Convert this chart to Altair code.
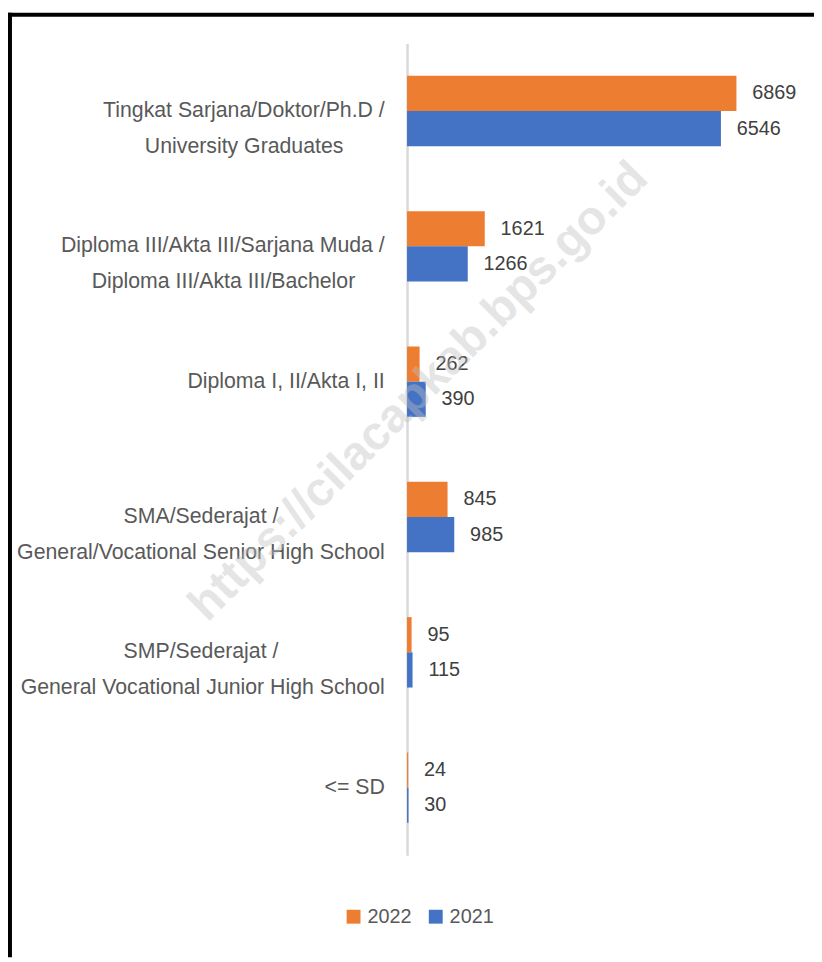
import altair as alt
import pandas as pd

# ---- data ----
categories = [
    "Tingkat Sarjana/Doktor/Ph.D /|University Graduates",
    "Diploma III/Akta III/Sarjana Muda /|Diploma III/Akta III/Bachelor",
    "Diploma I, II/Akta I, II",
    "SMA/Sederajat /|General/Vocational Senior High School",
    "SMP/Sederajat /|General Vocational Junior High School",
    "<= SD",
]
years = ["2022", "2021"]
values_2022 = [6869, 1621, 262, 845, 95, 24]
values_2021 = [6546, 1266, 390, 985, 115, 30]
colors = ["#ED7D31", "#4472C4"]
watermark = "https://cilacapkab.bps.go.id"

rows = []
for c, a, b in zip(categories, values_2022, values_2021):
    rows.append({"category": c, "year": "2022", "value": a})
    rows.append({"category": c, "year": "2021", "value": b})
df = pd.DataFrame(rows)

FONT = "Liberation Sans"
NB = "\u00a0"   # non-breaking space used to centre the shorter line
ZW = "\u200b"   # zero-width char so the padding is not trimmed

L0 = "split(datum.label,'|')[0]"
L1 = "split(datum.label,'|')[1]"
N = f"round(0.82*abs(length({L0})-length({L1})))"
PAD = f"pad('', {N}, '{NB}') + '{ZW}'"
label_expr = (
    f"length(split(datum.label,'|')) > 1 ? "
    f"(length({L0}) >= length({L1}) ? [{L0}, {L1} + {PAD}] "
    f": [{L0} + {PAD}, {L1}]) : datum.label"
)

base = alt.Chart(df)

y_enc = alt.Y(
    "category:N",
    sort=categories,
    scale=alt.Scale(paddingInner=0.48, paddingOuter=0.24),
    axis=alt.Axis(
        title=None,
        labelExpr=label_expr,
        labelFont=FONT,
        labelFontSize=21.5,
        labelColor="#595959",
        labelLineHeight=36,
        labelAlign="right",
        labelBaseline="middle",
        labelPadding=23,
        labelLimit=0,
        ticks=False,
        tickSize=0,
        domainColor="#D9D9D9",
        domainWidth=2.5,
        grid=False,
    ),
)
x_enc = alt.X("value:Q", scale=alt.Scale(domain=[0, 7000], nice=False), axis=None)
yoff = alt.YOffset("year:N", sort=years, scale=alt.Scale(paddingInner=0, paddingOuter=0))

bars = base.mark_bar().encode(
    x=x_enc,
    y=y_enc,
    yOffset=yoff,
    color=alt.Color(
        "year:N",
        sort=years,
        scale=alt.Scale(domain=years, range=colors),
        legend=alt.Legend(
            title=None,
            orient="none",
            legendX=-64,
            legendY=872,
            direction="horizontal",
            symbolType="square",
            symbolSize=196,
            symbolStrokeWidth=0,
            labelFont=FONT,
            labelFontSize=20,
            labelColor="#595959",
            labelOffset=4,
            columnPadding=14,
        ),
    ),
)

labels = base.mark_text(
    align="left", baseline="middle", dx=16, font=FONT, fontSize=20, color="#404040"
).encode(
    x=x_enc,
    y=alt.Y("category:N", sort=categories),
    yOffset=alt.YOffset("year:N", sort=years),
    text=alt.Text("value:Q", format="d"),
)

wm = alt.Chart(alt.Data(values=[{"t": watermark}])).mark_text(
    angle=315, font=FONT, fontSize=48, fontWeight="bold", color="#BFBFBF",
    opacity=0.4, align="center", baseline="middle",
).encode(x=alt.value(12), y=alt.value(352), text="t:N")

frame_top = alt.Chart(alt.Data(values=[{"k": 1}])).mark_rule(
    color="black", strokeWidth=4
).encode(x=alt.value(-403), x2=alt.value(411), y=alt.value(-29))
frame_left = alt.Chart(alt.Data(values=[{"k": 1}])).mark_rule(
    color="black", strokeWidth=4
).encode(x=alt.value(-401), y=alt.value(-31), y2=alt.value(923))

chart = (
    alt.layer(bars, labels, wm, frame_top, frame_left)
    .properties(
        width=339,
        height=820,
        autosize=alt.AutoSizeParams(type="none"),
        padding={"left": 403, "top": 31, "right": 72, "bottom": 103},
        background="white",
    )
    .configure_view(stroke=None)
)

chart.save("out.html", embed_options={"renderer": "svg", "actions": False})
